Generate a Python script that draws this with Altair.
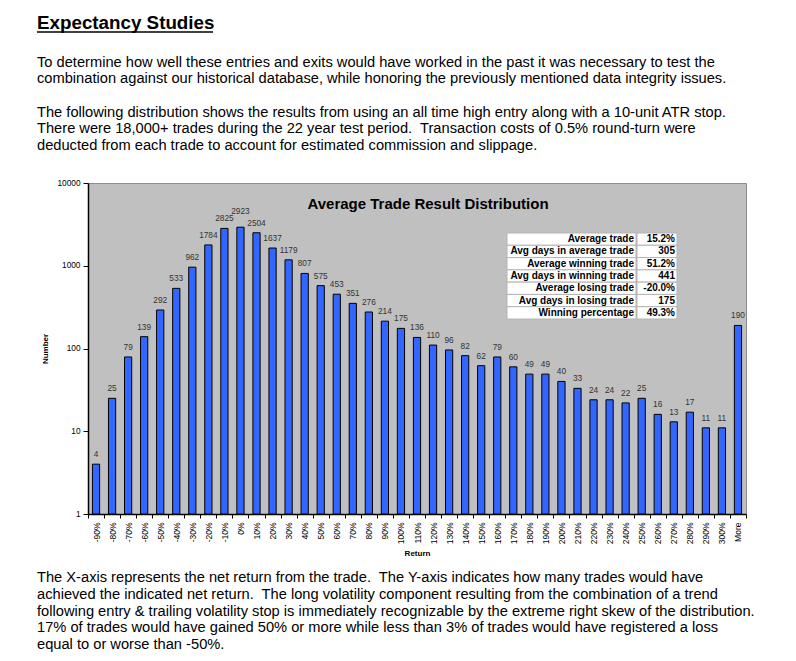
import altair as alt
import pandas as pd

FONT = "Liberation Sans"

returns = ["-90%", "-80%", "-70%", "-60%", "-50%", "-40%", "-30%", "-20%", "-10%", "0%",
           "10%", "20%", "30%", "40%", "50%", "60%", "70%", "80%", "90%", "100%",
           "110%", "120%", "130%", "140%", "150%", "160%", "170%", "180%", "190%", "200%",
           "210%", "220%", "230%", "240%", "250%", "260%", "270%", "280%", "290%", "300%", "More"]
counts = [4, 25, 79, 139, 292, 533, 962, 1784, 2825, 2923,
          2504, 1637, 1179, 807, 575, 453, 351, 276, 214, 175,
          136, 110, 96, 82, 62, 79, 60, 49, 49, 40,
          33, 24, 24, 22, 25, 16, 13, 17, 11, 11, 190]

stat_labels = ["Average trade", "Avg days in average trade", "Average winning trade",
               "Avg days in winning trade", "Average losing trade",
               "Avg days in losing trade", "Winning percentage"]
stat_values = ["15.2%", "305", "51.2%", "441", "-20.0%", "175", "49.3%"]

heading = "Expectancy Studies"
para1 = ["To determine how well these entries and exits would have worked in the past it was necessary to test the",
         "combination against our historical database, while honoring the previously mentioned data integrity issues."]
para2 = ["The following distribution shows the results from using an all time high entry along with a 10-unit ATR stop.",
         "There were 18,000+ trades during the 22 year test period.\u00a0 Transaction costs of 0.5% round-turn were",
         "deducted from each trade to account for estimated commission and slippage."]
para3 = ["The X-axis represents the net return from the trade.\u00a0 The Y-axis indicates how many trades would have",
         "achieved the indicated net return.\u00a0 The long volatility component resulting from the combination of a trend",
         "following entry & trailing volatility stop is immediately recognizable by the extreme right skew of the distribution.",
         "17% of trades would have gained 50% or more while less than 3% of trades would have registered a loss",
         "equal to or worse than -50%."]
chart_title = "Average Trade Result Distribution"

df = pd.DataFrame({"ret": returns, "n": counts})
stats = pd.DataFrame({"row": list(range(len(stat_labels))), "label": stat_labels, "value": stat_values})
one = alt.Data(values=[{}])

yscale = alt.Scale(type="log", domain=[1, 10000])
xenc = alt.X("ret:N", sort=returns,
             scale=alt.Scale(paddingInner=0, paddingOuter=0),
             axis=alt.Axis(title="Return", labelAngle=-90, labelFontSize=8.5, labelFont=FONT,
                           labelColor="black", tickBand="extent", tickSize=4, tickColor="black",
                           domainColor="black", domainWidth=1.5, titleFont=FONT, titleFontSize=8,
                           titleFontWeight="bold", titleColor="black", titlePadding=6,
                           labelPadding=4, labelOverlap=False))
yenc = alt.Y("n:Q", scale=yscale,
             axis=alt.Axis(title="Number", values=[1, 10, 100, 1000, 10000], format="d",
                           grid=False, labelFontSize=8.3, labelFont=FONT, labelColor="black",
                           tickSize=5, tickColor="black", domainColor="black", domainWidth=1.5,
                           titleFont=FONT, titleFontSize=8, titleFontWeight="bold",
                           titleColor="black", titlePadding=7, labelPadding=3))

bars = alt.Chart(df).mark_bar(width=alt.RelativeBandSize(0.45), color="#3366FF",
                              stroke="black", strokeWidth=1).encode(x=xenc, y=yenc, y2=alt.datum(1))

lab_enc = dict(x=alt.X("ret:N", sort=returns), y=alt.Y("n:Q", scale=yscale, axis=None), text="n:Q")
bar_labels = alt.Chart(df).mark_text(dy=-9, fontSize=8.3, font=FONT, color="#333333").encode(
    **lab_enc).transform_filter(alt.datum.ret != "0%")
peak_label = alt.Chart(df).mark_text(dy=-15, fontSize=8.3, font=FONT, color="#333333").encode(
    **lab_enc).transform_filter(alt.datum.ret == "0%")

ty = alt.Y("row:O", scale=alt.Scale(type="band", range=[50, 136], paddingInner=0, paddingOuter=0), axis=None)
cells_l = alt.Chart(stats).mark_rect(fill="white", stroke="#B4B4B4", strokeWidth=1).encode(
    x=alt.value(419), x2=alt.value(548), y=ty)
cells_r = alt.Chart(stats).mark_rect(fill="white", stroke="#B4B4B4", strokeWidth=1).encode(
    x=alt.value(549), x2=alt.value(589), y=ty)
txt_l = alt.Chart(stats).mark_text(align="right", baseline="middle", fontSize=10, fontWeight="bold",
                                   font=FONT, color="black").encode(x=alt.value(546), y=ty, text="label:N")
txt_r = alt.Chart(stats).mark_text(align="right", baseline="middle", fontSize=10, fontWeight="bold",
                                   font=FONT, color="black").encode(x=alt.value(587), y=ty, text="value:N")

title_mark = alt.Chart(one).mark_text(text=chart_title, fontSize=15, fontWeight="bold", font=FONT,
                                      align="center", baseline="alphabetic", color="black").encode(
    x=alt.value(340), y=alt.value(26))

head = alt.Chart(one).mark_text(text=heading, fontSize=18.8, fontWeight="bold", font=FONT,
                                align="left", baseline="alphabetic", color="black").encode(
    x=alt.value(-51), y=alt.value(-154))
underline = alt.Chart(one).mark_rule(color="black", strokeWidth=1.5).encode(
    x=alt.value(-51), x2=alt.value(125), y=alt.value(-151))

def para(lines, y):
    return alt.Chart(one).mark_text(text=lines, fontSize=14.67, font=FONT, align="left",
                                    baseline="alphabetic", lineHeight=16.8, color="black").encode(
        x=alt.value(-51), y=alt.value(y))

p1 = para(para1, -116.5)
p2 = para(para2, -66.5)
p3 = para(para3, 399)

chart = alt.layer(bars, bar_labels, peak_label, cells_l, cells_r, txt_l, txt_r, title_mark,
                  head, underline, p1, p2, p3).resolve_scale(y="independent").properties(
    width=658, height=331,
    autosize=alt.AutoSizeParams(type="none"),
    padding={"left": 80, "top": 175, "right": 30, "bottom": 140},
    background="white",
).configure_view(fill="#C0C0C0", stroke="#8C8C8C", strokeWidth=1)

chart.save("out.html", embed_options={"renderer": "svg", "actions": False})
